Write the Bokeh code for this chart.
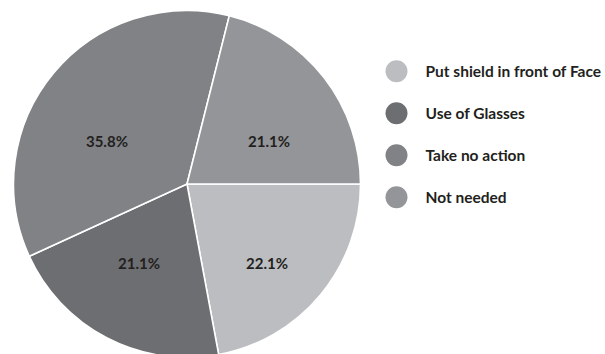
import math
from bokeh.plotting import figure
from bokeh.models import Range1d
from bokeh.core.properties import value
from bokeh.embed import file_html
from bokeh.resources import INLINE

# ---- data ----
categories = ["Put shield in front of Face", "Use of Glasses", "Take no action", "Not needed"]
percentages = [22.1, 21.1, 35.8, 21.1]
colors = ["#bcbdc0", "#6d6e71", "#808285", "#939598"]

# ---- layout ----
W, H = 605, 354
cx, cy_pix = 186.5, 183.5
r = 173.5
FONT = "Lato"
TEXT_COLOR = "#231f20"

p = figure(width=W, height=H, output_backend="svg", toolbar_location=None,
           x_range=Range1d(0, W), y_range=Range1d(0, H),
           x_axis_type=None, y_axis_type=None, min_border=0)
p.outline_line_color = None
p.grid.visible = False
p.background_fill_color = "white"

total = sum(percentages)
cum = 0.0
starts, ends, mids = [], [], []
for v in percentages:
    a0 = cum / total * 2 * math.pi
    cum += v
    a1 = cum / total * 2 * math.pi
    # clockwise on screen -> negative math angles
    starts.append(-a1)
    ends.append(-a0)
    mids.append((a0 + a1) / 2)

cy = H - cy_pix
p.wedge(x=[cx] * len(percentages), y=[cy] * len(percentages), radius=r,
        start_angle=starts, end_angle=ends, fill_color=colors,
        line_color="white", line_width=1.6)

# data labels
lx, ly, lt = [], [], []
for v, m in zip(percentages, mids):
    lx.append(cx + 0.6 * r * math.cos(m))
    off = 0.454 * r if math.sin(m) > 0 else -0.246 * r
    ly.append(H - (cy_pix + off))
    lt.append(f"{v:.1f}%")
p.text(x=lx, y=ly, text=lt, text_align="center", text_baseline="middle",
       text_font=value(FONT), text_font_style="bold", text_font_size="15px",
       text_color=TEXT_COLOR)

# legend
leg_x, leg_y0, leg_dy = 396, 70.7, 42
mx = [leg_x] * len(categories)
my = [H - (leg_y0 + i * leg_dy) for i in range(len(categories))]
p.scatter(x=mx, y=my, size=22, fill_color=colors, line_color=None)
p.text(x=[leg_x + 29] * len(categories), y=my, text=categories,
       text_align="left", text_baseline="middle",
       text_font=value(FONT), text_font_style="bold", text_font_size="15.5px",
       text_color=TEXT_COLOR)

open("out.html", "w").write(file_html(p, INLINE))
